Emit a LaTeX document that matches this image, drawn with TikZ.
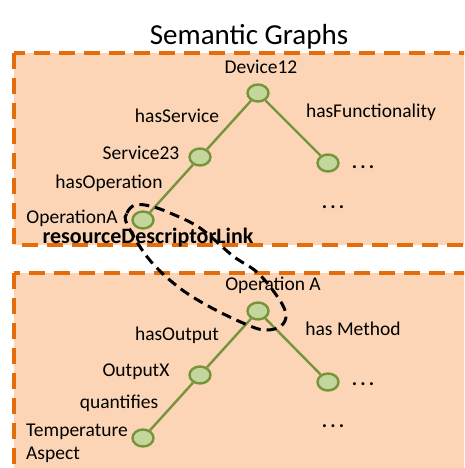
\documentclass[tikz,border=0pt]{standalone}
\usepackage{fontspec}
\setmainfont{Carlito}
\usetikzlibrary{shapes.geometric}
\definecolor{boxfill}{HTML}{FBD5B5}
\definecolor{boxline}{HTML}{E46C0A}
\definecolor{nodefill}{HTML}{C3D69B}
\definecolor{nodeline}{HTML}{77933C}
\newcommand{\mydots}{.\kern3.2pt.\kern3.2pt.}
\tikzset{
  panel/.style={fill=boxfill, draw=boxline, line width=4pt, dash pattern=on 16pt off 9pt},
  gnode/.style={ellipse, fill=nodefill, draw=nodeline, line width=2.4pt, minimum width=21pt, minimum height=17pt, inner sep=0pt},
  edge/.style={draw=nodeline, line width=2.4pt},
  lbl/.style={font=\fontsize{19.5}{23}\selectfont, inner sep=0pt, text=black},
  dotsl/.style={font=\bfseries\fontsize{20}{23}\selectfont, inner sep=0pt, text=black},
  linkloop/.style={draw=black, line width=3pt, dash pattern=on 10pt off 6pt}
}
\begin{document}
\begin{tikzpicture}[x=1pt,y=-1pt]
\useasboundingbox (0,0) rectangle (464,468);
\clip (0,0) rectangle (464,468);
\fill[white] (0,0) rectangle (464,468);
% title
\node[font=\fontsize{29}{34}\selectfont, inner sep=0pt] (title) at (249,37) {Semantic Graphs};
% panels
\path[panel] (14,53) rectangle (490,245);
\path[panel] (14,273) rectangle (490,500);
% top graph nodes
\node[gnode] (dev) at (258,93) {};
\node[gnode] (serv) at (200,157) {};
\node[gnode] (opa) at (143,220) {};
\node[gnode] (fun) at (328,163) {};
\path[edge] (dev) -- (serv);
\path[edge] (serv) -- (opa);
\path[edge] (dev) -- (fun);
% bottom graph nodes
\node[gnode] (opb) at (258,311) {};
\node[gnode] (outx) at (200,375) {};
\node[gnode] (temp) at (143,438) {};
\node[gnode] (meth) at (328,382) {};
\path[edge] (opb) -- (outx);
\path[edge] (outx) -- (temp);
\path[edge] (opb) -- (meth);
% top labels
\node[lbl] (ldev) at (261,67) {Device12};
\node[lbl] (lhasserv) at (177,116) {hasService};
\node[lbl] (lhasfun) at (371,112) {hasFunctionality};
\node[lbl] (lserv) at (141,153) {Service23};
\node[dotsl] (ldots1) at (363,167) {\mydots};
\node[lbl] (lhasop) at (109,183) {hasOperation};
\node[dotsl] (ldots2) at (333,207) {\mydots};
\node[lbl] (lopa) at (72,218) {OperationA};
% bottom labels
\node[lbl] (lopb) at (273,285) {Operation A};
\node[lbl] (lhasout) at (177,335) {hasOutput};
\node[lbl] (lhasmeth) at (353,329) {has Method};
\node[lbl] (loutx) at (136,372) {OutputX};
\node[dotsl] (ldots3) at (363,384) {\mydots};
\node[lbl] (lquant) at (119,403) {quantifies};
\node[dotsl] (ldots4) at (333,426) {\mydots};
\node[lbl, align=left, anchor=west, font=\fontsize{19.5}{23}\selectfont] (ltemp) at (26,443) {Temperature\\Aspect};
% dashed link loop
\path[linkloop] plot[smooth cycle, tension=0.6] coordinates {(127,224) (127,213) (135,205) (150,206) (170,213) (200,228) (233,256) (258,273) (279,299) (286,315) (281,326) (267,330) (250,326) (210,307) (177,286) (148,258)};
\node[font=\bfseries\fontsize{22}{26}\selectfont, inner sep=0pt] (link) at (148,238) {resourceDescriptorLink};
\end{tikzpicture}
\end{document}
